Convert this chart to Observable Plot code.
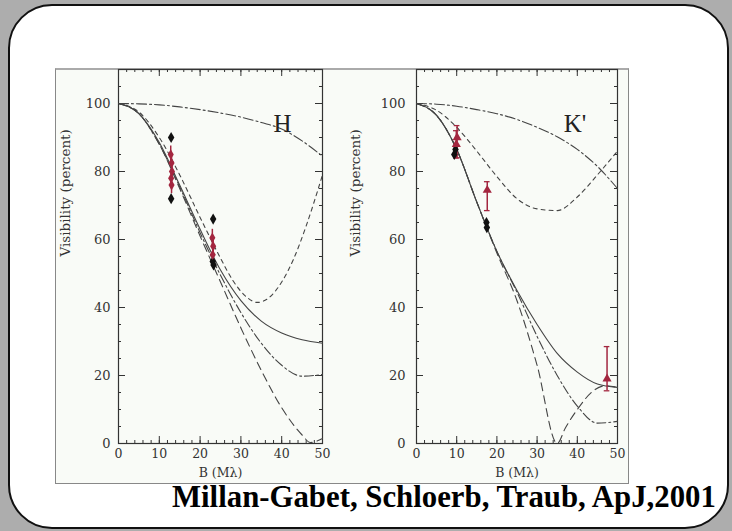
<!DOCTYPE html>
<html><head><meta charset="utf-8">
<script src="https://cdn.jsdelivr.net/npm/d3@7"></script>
<script src="https://cdn.jsdelivr.net/npm/@observablehq/plot@0.6"></script>
<style>
html,body{margin:0;padding:0;}
body{width:732px;height:531px;background:#adadad;position:relative;overflow:hidden;}
#card{position:absolute;left:8px;top:4px;width:721px;height:525px;background:#fff;border:2px solid #111;border-radius:44px;box-sizing:border-box;}
#figbox{position:absolute;left:55px;top:68px;width:574px;height:416px;background:#f9fbf7;border:1px solid #888;border-top:2px solid #aaa;box-sizing:border-box;}
#left,#right{position:absolute;top:60px;}
#left{left:56px;} #right{left:340px;}
#caption{position:absolute;left:172px;top:482px;font:bold 30.8px "Liberation Serif",serif;line-height:30px;color:#000;white-space:nowrap;}
</style>
</head><body>
<div id="card"></div>
<div id="figbox"></div>
<div id="left"></div>
<div id="right"></div>
<div id="caption">Millan-Gabet, Schloerb, Traub, ApJ,2001</div>
<script>
// ---- tick values ----
const xMajor = [0,10,20,30,40,50];
const xMinor = [0,2,4,6,8,10,12,14,16,18,20,22,24,26,28,30,32,34,36,38,40,42,44,46,48,50];
const yMajor = [0,20,40,60,80,100];
const yMinor = [0,5,10,15,20,25,30,35,40,45,50,55,60,65,70,75,80,85,90,95,100,105,110];

// ---- H panel model curves ----
const gridB = [0,5,10,15,20,25,30,35,40,45,50];
const hDashDotV = [100,99.9,99.6,99.0,98.2,97.2,96,94.4,92.5,89,84.5];
const hSolidV = [100,97,88.5,76,63,51,42,36,32.5,30.5,29.5];
const hLongDashV = [100,97,88,75.5,62,49.5,38.5,29.5,23,19.8,20.3];
const hZeroB = [0,5,10,15,20,25,30,35,40,45,47,50];
const hZeroV = [100,97,88,75,61,47.5,34,21.5,10.5,2.5,0.3,1.5];
const hShortB = [0,5,10,15,20,25,28,31,34,37,40,43,46,50];
const hShortV = [100,97.5,90,79,66.5,54.5,48,43.5,41.5,43,47.5,54.5,64,79];

// ---- H panel measurements ----
const hBlackB = [12.9,12.9,23.2,23.1,23.3];
const hBlackV = [90,72,66,53.5,52.5];
const hRedB = [12.8,13.0,13.1,12.9,13.0,23.0,23.2,23.1];
const hRedV = [85,82.5,80,78,76,60.5,58,55.5];
const hRedErr = [2.5,2.5,2.5,2.5,2.5,2.5,2.5,2.5];

// ---- K' panel model curves ----
const kDashDotV = [100,99.8,99.2,98.2,97,95.3,93,90.2,86.5,81.5,75];
const kShortV = [100,98,93,86,78.5,72,69,68.5,72.5,79,86];
const kSolidV = [100,96.5,86.5,71,56.5,45,35,26.5,21,17.5,16.5];
const kLongDashV = [100,96.5,86.5,71,56.5,44.5,31.5,20,11,6,6.5];
const kZeroB = [0,5,10,15,20,25,30,35,37,40,44,47,50];
const kZeroV = [100,96.5,86.5,71,56,42,23,0,4.5,10,15.5,17,16.5];

// ---- K' panel measurements ----
const kBlackB = [9.4,9.7,17.4,17.5];
const kBlackV = [85,86.5,65,63.5];
const kRedB = [10.1,9.9,17.6,47.4];
const kRedV = [90,88,74.5,19];
const kRedLo = [84,84,68.5,15.5];
const kRedHi = [93.5,92,77,28.5];

const pts = (bs, vs) => bs.map((b, i) => ({b, v: vs[i]}));
const CURVE = "#444";
const RED = "#a3263f";
const FRAME_H = 374;

// inward ticks on all four frame sides, drawn as tick marks inset from the far side
function frameMarks(yPad, frameW) {
  const tk = {stroke: "#333", strokeWidth: 1};
  return [
    Plot.frame({stroke: "#333", strokeWidth: 1.2}),
    Plot.tickX(xMinor, {x: d => d, insetTop: FRAME_H - 3, ...tk}),
    Plot.tickX(xMajor, {x: d => d, insetTop: FRAME_H - 7, ...tk}),
    Plot.tickX(xMinor, {x: d => d, insetBottom: FRAME_H - 3, ...tk}),
    Plot.tickX(xMajor, {x: d => d, insetBottom: FRAME_H - 7, ...tk}),
    Plot.tickY(yMinor, {y: d => d, insetRight: frameW - 3, ...tk}),
    Plot.tickY(yMajor, {y: d => d, insetRight: frameW - 7, ...tk}),
    Plot.tickY(yMinor, {y: d => d, insetLeft: frameW - 3, ...tk}),
    Plot.tickY(yMajor, {y: d => d, insetLeft: frameW - 7, ...tk}),
    Plot.axisX(xMajor, {anchor: "bottom", tickSize: 0, tickPadding: 6, label: null, fill: "#333", fontSize: 12.5}),
    Plot.axisY(yMajor, {anchor: "left", tickSize: 0, tickPadding: yPad, label: null, fill: "#333", fontSize: 13})
  ];
}

function line(bs, vs, dash) {
  return Plot.line(pts(bs, vs), {x: "b", y: "v", stroke: CURVE, strokeWidth: 1.1, strokeDasharray: dash, curve: "monotone-x"});
}

const baseOpts = {
  height: 430,
  marginTop: 9,
  marginBottom: 47,
  x: {domain: [0, 50], label: null},
  y: {domain: [0, 110], label: null},
  style: {fontFamily: "DejaVu Serif", fontSize: "12px", background: "transparent", color: "#333"}
};

const left = Plot.plot({
  ...baseOpts,
  width: 280,
  marginLeft: 62,
  marginRight: 14,
  marks: [
    ...frameMarks(8, 204),
    line(gridB, hDashDotV, "10,3,2,3"),
    line(hShortB, hShortV, "4,4"),
    line(gridB, hSolidV, null),
    line(gridB, hLongDashV, "9,3,2,3"),
    line(hZeroB, hZeroV, "8,5"),
    Plot.ruleX(pts(hRedB, hRedV), {x: "b", y1: (d, i) => d.v - hRedErr[i], y2: (d, i) => d.v + hRedErr[i], stroke: RED, strokeWidth: 1.5}),
    Plot.dot(pts(hBlackB, hBlackV), {x: "b", y: "v", symbol: "diamond", r: 3.4, fill: "#111"}),
    Plot.dot(pts(hRedB, hRedV), {x: "b", y: "v", symbol: "diamond", r: 3.2, fill: RED}),
    Plot.text(["H"], {x: 40.2, y: 91.5, lineAnchor: "bottom", fontFamily: "Liberation Serif", fontSize: 25, fill: "#222"}),
    Plot.text(["Visibility (percent)"], {frameAnchor: "left", rotate: -90, dx: -53, fontSize: 13.5, fill: "#333"}),
    Plot.text(["B (M\u03bb)"], {frameAnchor: "bottom", dy: 33, fontSize: 12.5, fill: "#333"})
  ]
});
document.getElementById("left").append(left);

const right = Plot.plot({
  ...baseOpts,
  width: 290,
  marginLeft: 76,
  marginRight: 13,
  marks: [
    ...frameMarks(11, 201),
    line(gridB, kDashDotV, "10,3,2,3"),
    line(gridB, kShortV, "4,4"),
    line(gridB, kSolidV, null),
    line(gridB, kLongDashV, "9,3,2,3"),
    line(kZeroB, kZeroV, "8,5"),
    Plot.ruleX(pts(kRedB, kRedV), {x: "b", y1: (d, i) => kRedLo[i], y2: (d, i) => kRedHi[i], stroke: RED, strokeWidth: 1.5}),
    Plot.ruleY(pts(kRedB, kRedHi), {y: "v", x1: d => d.b - 0.7, x2: d => d.b + 0.7, stroke: RED, strokeWidth: 1.3}),
    Plot.ruleY(pts(kRedB, kRedLo), {y: "v", x1: d => d.b - 0.7, x2: d => d.b + 0.7, stroke: RED, strokeWidth: 1.3}),
    Plot.dot(pts(kBlackB, kBlackV), {x: "b", y: "v", symbol: "diamond", r: 3.4, fill: "#111"}),
    Plot.dot(pts(kRedB, kRedV), {x: "b", y: "v", symbol: "triangle", r: 3.4, fill: RED}),
    Plot.text(["K'"], {x: 36.6, y: 91.5, textAnchor: "start", lineAnchor: "bottom", fontFamily: "Liberation Serif", fontSize: 25, fill: "#222"}),
    Plot.text(["Visibility (percent)"], {frameAnchor: "left", rotate: -90, dx: -61, fontSize: 13.5, fill: "#333"}),
    Plot.text(["B (M\u03bb)"], {frameAnchor: "bottom", dy: 33, fontSize: 12.5, fill: "#333"})
  ]
});
document.getElementById("right").append(right);
</script>
</body></html>
